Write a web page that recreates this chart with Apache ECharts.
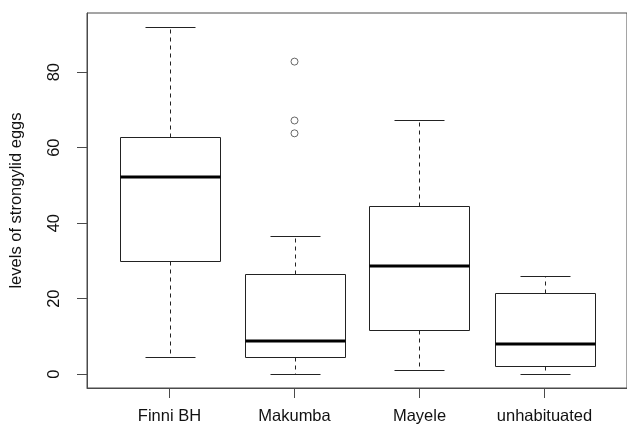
<!DOCTYPE html>
<html>
<head>
<meta charset="utf-8">
<script src="https://cdn.jsdelivr.net/npm/echarts@6/dist/echarts.min.js"></script>
<style>
  html, body { margin: 0; padding: 0; background: #fff; }
  #chart { width: 627px; height: 427px; }
</style>
</head>
<body>
<div id="chart"></div>
<script>
const categories = ['Finni BH', 'Makumba', 'Mayele', 'unhabituated'];
const whiskerLow = [4.5, 0, 1.0, 0];
const q1 = [29.9, 4.5, 11.6, 2.2];
const median = [52.1, 8.8, 28.7, 7.9];
const q3 = [62.9, 26.4, 44.6, 21.6];
const whiskerHigh = [92, 36.6, 67.2, 25.9];
const outliers = [[2, 82.8], [2, 67.2], [2, 63.8]];
const yTicks = [0, 20, 40, 60, 80];
const xTicks = [1, 2, 3, 4];

const lineColor = '#222';
const frameColor = '#4a4a4a';
const textColor = '#111';
const font = 'Liberation Sans, Arial, sans-serif';

const boxData = categories.map((c, i) => [i + 1, whiskerLow[i], q1[i], median[i], q3[i], whiskerHigh[i]]);

// R style box: box 0.8 wide, caps 0.4 wide, dashed whiskers
function renderBox(params, api) {
  const x = api.value(0);
  const px = v => Math.round(v) + 0.5;
  const c = api.coord([x, 0])[0];
  const cx = px(c);
  const halfBox = api.size([0.4, 0])[0];
  const halfCap = api.size([0.2, 0])[0];
  const y = v => px(api.coord([x, v])[1]);
  const low = y(api.value(1)), lo = y(api.value(2)), med = api.coord([x, api.value(3)])[1];
  const hi = y(api.value(4)), top = y(api.value(5));
  const thin = { stroke: lineColor, lineWidth: 1, fill: null };
  const dashed = { stroke: lineColor, lineWidth: 1, lineDash: [4, 4], fill: null };
  return {
    type: 'group',
    children: [
      { type: 'line', shape: { x1: cx, y1: hi, x2: cx, y2: top }, style: dashed },
      { type: 'line', shape: { x1: cx, y1: lo, x2: cx, y2: low }, style: dashed },
      { type: 'line', shape: { x1: px(c - halfCap), y1: top, x2: px(c + halfCap), y2: top }, style: thin },
      { type: 'line', shape: { x1: px(c - halfCap), y1: low, x2: px(c + halfCap), y2: low }, style: thin },
      { type: 'rect', shape: { x: px(c - halfBox), y: hi, width: Math.round(2 * halfBox), height: lo - hi },
        style: { stroke: lineColor, lineWidth: 1, fill: '#fff' } },
      { type: 'line', shape: { x1: px(c - halfBox), y1: Math.round(med), x2: px(c - halfBox) + Math.round(2 * halfBox), y2: Math.round(med) },
        style: { stroke: '#000', lineWidth: 3 } }
    ]
  };
}

const chart = echarts.init(document.getElementById('chart'), null, { renderer: 'canvas' });
chart.setOption({
  animation: false,
  backgroundColor: '#fff',
  textStyle: { fontFamily: font },
  grid: {
    left: 87, right: -4, top: 13, bottom: 39,
    show: true, borderColor: frameColor, borderWidth: 1, backgroundColor: 'transparent'
  },
  xAxis: {
    type: 'value',
    min: 0.34,
    max: 4.66,
    splitLine: { show: false },
    axisLine: { show: true, onZero: false, lineStyle: { color: frameColor, width: 1 } },
    axisTick: { show: true, inside: false, length: 10, customValues: xTicks, lineStyle: { color: frameColor } },
    axisLabel: {
      customValues: xTicks,
      formatter: v => categories[Math.round(v) - 1] || '',
      color: textColor, fontSize: 16.5, fontFamily: font, margin: 20
    }
  },
  yAxis: {
    type: 'value',
    min: -3.68,
    max: 95.68,
    name: 'levels of strongylid eggs',
    nameLocation: 'middle',
    nameGap: 62,
    nameRotate: 90,
    nameTextStyle: { color: textColor, fontSize: 16.5, fontFamily: font },
    splitLine: { show: false },
    axisLine: { show: true, onZero: false, lineStyle: { color: frameColor, width: 1 } },
    axisTick: { show: true, inside: false, length: 10, customValues: yTicks, lineStyle: { color: frameColor } },
    axisLabel: {
      customValues: yTicks,
      rotate: 90,
      color: textColor, fontSize: 16.5, fontFamily: font, margin: 24
    }
  },
  series: [
    {
      type: 'custom',
      renderItem: renderBox,
      encode: { x: 0, y: [1, 2, 3, 4, 5] },
      data: boxData,
      clip: false
    },
    {
      type: 'scatter',
      data: outliers,
      symbol: 'circle',
      symbolSize: 7,
      itemStyle: { color: '#fff', borderColor: '#444', borderWidth: 1 }
    }
  ]
});
</script>
</body>
</html>
